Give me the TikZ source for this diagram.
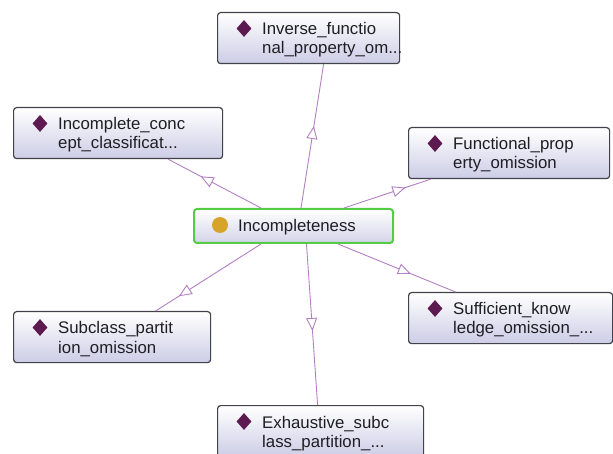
\documentclass[tikz,border=0pt]{standalone}
\usepackage{fontspec}
\setmainfont{Liberation Sans}
\usetikzlibrary{calc,shapes.geometric,arrows.meta,decorations.markings}

\definecolor{edgecol}{RGB}{180,128,196}
\definecolor{boxline}{RGB}{66,66,74}
\definecolor{boxbot}{RGB}{204,204,230}
\definecolor{indcol}{RGB}{92,26,80}
\definecolor{classcol}{RGB}{214,164,40}
\definecolor{selcol}{RGB}{84,204,70}
\definecolor{txtcol}{RGB}{30,30,36}

\tikzset{
  clsbox/.style={rectangle, rounded corners=3pt, draw=boxline, line width=1.2pt,
    top color=white, bottom color=boxbot, minimum height=51pt, inner sep=0pt,
    anchor=north west},
  selbox/.style={rectangle, rounded corners=3pt, draw=selcol, line width=2pt,
    top color=white, bottom color=boxbot!85, minimum width=199pt,
    minimum height=34pt, inner sep=0pt, anchor=north west},
  indicon/.style={diamond, fill=indcol, minimum width=15pt, minimum height=17pt,
    inner sep=0pt},
  classicon/.style={circle, fill=classcol, minimum size=16pt, inner sep=0pt},
  lbl/.style={anchor=base west, inner sep=0pt, text=txtcol,
    font=\fontsize{16.8}{19}\selectfont},
  isa/.style={draw=edgecol, line width=0.9pt, postaction={decorate,
    decoration={markings, mark=at position #1 with
      {\arrow[draw=edgecol, line width=0.9pt]{Triangle[length=13pt, width=11pt, fill=white]}}}}}
}

% an individual: box, diamond icon and two lines of label text
\newcommand\indbox[6]{%
  \node[clsbox, minimum width=#4pt] (#1) at (#2,#3) {};
  \node[indicon] (#1-icon) at ($(#1.north west)+(27,16.5)$) {};
  \node[lbl] (#1-a) at ($(#1.north west)+(45,23)$) {#5};
  \node[lbl] (#1-b) at ($(#1.north west)+(45,42)$) {#6};
}

\begin{document}
\begin{tikzpicture}[x=1pt, y=-1pt]
  \clip (0,0) rectangle (613,454);
  \fill[white] (0,0) rectangle (613,454);

  % central class
  \node[selbox] (inc) at (193,208) {};
  \node[classicon] (inc-icon) at ($(inc.north west)+(27,17)$) {};
  \node[lbl] (inc-a) at ($(inc.north west)+(45,24)$) {Incompleteness};

  % surrounding individuals
  \indbox{inv}{217}{12}{182}{Inverse\_functio}{nal\_property\_om...}
  \indbox{con}{13}{107}{209}{Incomplete\_conc}{ept\_classificat...}
  \indbox{fun}{408}{127}{201}{Functional\_prop}{erty\_omission}
  \indbox{suf}{408}{292}{204}{Sufficient\_know}{ledge\_omission\_...}
  \indbox{sub}{13}{311}{197}{Subclass\_partit}{ion\_omission}
  \indbox{exh}{217}{405}{206}{Exhaustive\_subc}{lass\_partition\_...}

  % connectors with hollow triangles pointing outward
  \draw[isa=0.57] ($(inc.north)+(7.5,0)$) -- ($(inv.south)+(15,0)$);
  \draw[isa=0.65] ($(inc.north)+(-32.5,0)$) -- ($(con.south)+(50,0)$);
  \draw[isa=0.71] ($(inc.north)+(50.5,0)$) -- ($(fun.south)+(-78.5,0)$);
  \draw[isa=0.62] ($(inc.south)+(44.5,0)$) -- ($(suf.north)+(-55,0)$);
  \draw[isa=0.54] ($(inc.south)+(13,0)$) -- ($(exh.north)+(-3,0)$);
  \draw[isa=0.78] ($(inc.south)+(-32.5,0)$) -- ($(sub.north)+(43.5,0)$);
\end{tikzpicture}
\end{document}
